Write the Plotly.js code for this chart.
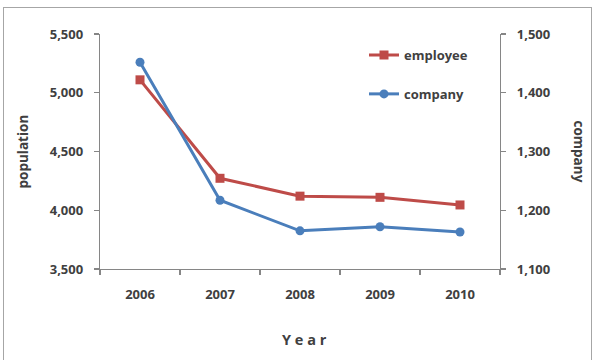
<!DOCTYPE html>
<html>
<head>
<meta charset="utf-8">
<script src="https://cdn.plot.ly/plotly-3.0.1.min.js"></script>
<style>
  html, body { margin: 0; padding: 0; background: #fff; }
  #wrap { position: relative; width: 597px; height: 360px; overflow: hidden; }
  #chart { position: absolute; left: 0; top: 0; width: 597px; height: 360px; }
  #frame { position: absolute; left: 3px; top: 7px; width: 587px; height: 370px;
           border: 1.5px solid #a6a6a6; pointer-events: none; }
</style>
</head>
<body>
<div id="wrap">
  <div id="chart"></div>
  <div id="frame"></div>
</div>
<script>
const years = ['2006', '2007', '2008', '2009', '2010'];
const employee = [5110, 4272, 4120, 4110, 4045];
const company = [1452, 1217, 1165, 1172, 1163];
const popTicks = [3500, 4000, 4500, 5000, 5500];
const popTickText = ['3,500', '4,000', '4,500', '5,000', '5,500'];
const compTicks = [1100, 1200, 1300, 1400, 1500];
const compTickText = ['1,100', '1,200', '1,300', '1,400', '1,500'];

const font = { family: 'Open Sans, sans-serif', size: 13, color: '#404040', weight: 'bold' };

const traces = [
  {
    x: years, y: employee, name: 'employee', type: 'scatter', mode: 'lines+markers',
    yaxis: 'y', legend: 'legend',
    line: { color: '#BE4B48', width: 3 },
    marker: { symbol: 'square', size: 9, color: '#BE4B48' }
  },
  {
    x: years, y: company, name: 'company', type: 'scatter', mode: 'lines+markers',
    yaxis: 'y2', legend: 'legend2',
    line: { color: '#4A7EBB', width: 3 },
    marker: { symbol: 'circle', size: 9, color: '#4A7EBB' }
  }
];

const axisCommon = {
  showgrid: false, zeroline: false, showline: true, linecolor: '#868686', linewidth: 1.2,
  ticks: 'outside', ticklen: 5, tickcolor: '#868686', tickwidth: 1.2,
  tickfont: font, fixedrange: true
};

const layout = {
  width: 597, height: 360,
  margin: { l: 100, r: 97, t: 34, b: 91 },
  paper_bgcolor: '#ffffff', plot_bgcolor: '#ffffff',
  font: font,
  showlegend: true,
  xaxis: Object.assign({}, axisCommon, {
    type: 'category', range: [-0.5, 4.5], tickson: 'boundaries',
    ticklabelstandoff: 13
  }),
  yaxis: Object.assign({}, axisCommon, {
    range: [3500, 5500], tickvals: popTicks, ticktext: popTickText,
    ticklabelstandoff: 8
  }),
  yaxis2: Object.assign({}, axisCommon, {
    overlaying: 'y', side: 'right', range: [1100, 1500],
    tickvals: compTicks, ticktext: compTickText, ticklabelstandoff: 8
  }),
  legend: {
    x: 0.66, y: 0.91, xanchor: 'left', yanchor: 'middle',
    bgcolor: 'rgba(0,0,0,0)', font: font, itemwidth: 30
  },
  legend2: {
    x: 0.66, y: 0.745, xanchor: 'left', yanchor: 'middle',
    bgcolor: 'rgba(0,0,0,0)', font: font, itemwidth: 30
  },
  annotations: [
    { text: 'population', xref: 'paper', yref: 'paper', x: -0.195, y: 0.5,
      xanchor: 'center', yanchor: 'middle',
      textangle: -90, showarrow: false, font: Object.assign({}, font, { size: 13.5 }) },
    { text: 'company', xref: 'paper', yref: 'paper', x: 1.1975, y: 0.5,
      xanchor: 'center', yanchor: 'middle',
      textangle: 90, showarrow: false, font: Object.assign({}, font, { size: 13.5 }) },
    { text: 'Y e a r', xref: 'paper', yref: 'paper', x: 0.51, y: -0.3,
      xanchor: 'center', yanchor: 'middle', showarrow: false,
      font: Object.assign({}, font, { size: 14.5 }) }
  ]
};

Plotly.newPlot('chart', traces, layout, { displayModeBar: false, staticPlot: true });
</script>
</body>
</html>
